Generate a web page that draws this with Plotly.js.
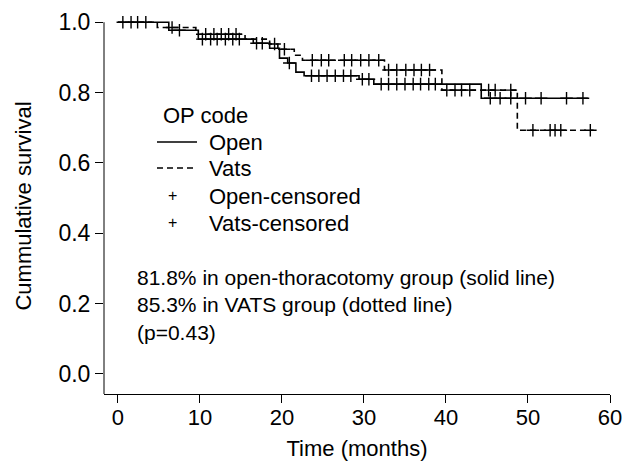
<!DOCTYPE html>
<html>
<head>
<meta charset="utf-8">
<script src="https://cdn.plot.ly/plotly-3.0.1.min.js"></script>
<style>html,body{margin:0;padding:0;background:#fff;}#chart{width:623px;height:461px;}</style>
</head>
<body>
<div id="chart"></div>
<script>
// Open (solid) step curve: event times and survival after each step
const openTime = [0, 6.2, 9.8, 16.5, 18.5, 19.7, 20.7, 21.7, 22.7, 29.4, 31.2, 44.3, 57.3];
const openSurv = [1.0, 0.977, 0.952, 0.940, 0.926, 0.898, 0.884, 0.858, 0.848, 0.838, 0.824, 0.784, 0.784];
// Vats (dashed) step curve
const vatsTime = [0, 4.8, 9.5, 15.5, 18.5, 19.5, 21.5, 22.5, 32.5, 39.5, 48.7, 58.0];
const vatsSurv = [1.0, 0.985, 0.966, 0.952, 0.938, 0.923, 0.906, 0.892, 0.864, 0.807, 0.693, 0.693];
// Censored times
const openCensor = [0.6, 1.6, 2.4, 3.4, 7.5, 10.3, 11.3, 12.1, 13.1, 14.0, 14.8, 16.9, 17.6, 20.9,
  23.6, 24.5, 25.5, 26.5, 27.5, 28.4, 29.8, 30.6, 32.1, 33.0, 34.0, 35.0, 36.0, 36.9, 37.9, 38.7,
  45.4, 46.6, 47.9, 49.7, 51.6, 54.7, 56.7];
const vatsCensor = [6.6, 10.7, 11.7, 12.6, 13.5, 14.4, 19.1, 20.3, 23.7, 24.8, 25.7, 27.6, 28.5,
  29.6, 30.6, 31.8, 33.0, 34.0, 35.1, 36.1, 37.0, 38.0, 40.1, 41.1, 41.9, 42.9, 45.2, 46.0, 47.9,
  50.6, 52.7, 53.3, 54.0, 57.6];
const xTicks = [0, 10, 20, 30, 40, 50, 60];
const yTicks = [0, 0.2, 0.4, 0.6, 0.8, 1.0];
const legendTitle = "OP code";
const legendLabels = ["Open", "Vats", "Open-censored", "Vats-censored"];
const noteLines = ["81.8% in open-thoracotomy group (solid line)", "85.3% in VATS group (dotted line)", "(p=0.43)"];

function survAt(times, surv, t) {
  let s = surv[0];
  for (let i = 0; i < times.length; i++) { if (times[i] <= t) s = surv[i]; }
  return s;
}

const FONT = "Liberation Sans, Arial, sans-serif";
const traces = [
  {x: openTime, y: openSurv, mode: 'lines', line: {shape: 'hv', color: '#000', width: 1.6}, name: legendLabels[0]},
  {x: vatsTime, y: vatsSurv, mode: 'lines', line: {shape: 'hv', color: '#000', width: 1.6, dash: '6px,4px'}, name: legendLabels[1]},
  {x: openCensor, y: openCensor.map(t => survAt(openTime, openSurv, t)), mode: 'markers', name: legendLabels[2],
   marker: {symbol: 'cross-thin', size: 9, line: {color: '#000', width: 1.4}}, cliponaxis: false},
  {x: vatsCensor, y: vatsCensor.map(t => survAt(vatsTime, vatsSurv, t)), mode: 'markers', name: legendLabels[3],
   marker: {symbol: 'cross-thin', size: 9, line: {color: '#000', width: 1.4}}, cliponaxis: false}
];

// plot area in pixels: x 104..610, y 18..394
const ML = 104, MR = 13, MT = 18, MB = 67;
const PL = ML, PW = 623 - ML - MR, PB = 461 - MB, PH = 461 - MT - MB;
const px = v => (v - PL) / PW;
const py = v => (PB - v) / PH;

const legRows = [142, 168, 196, 223];
const shapes = [
  {type: 'line', xref: 'paper', yref: 'y', x0: 0, x1: 0, y0: -0.057, y1: 1.0, line: {color: '#000', width: 1}},
  {type: 'line', xref: 'paper', yref: 'paper', x0: px(157), x1: px(197), y0: py(legRows[0]), y1: py(legRows[0]), line: {color: '#000', width: 1.4}},
  {type: 'line', xref: 'paper', yref: 'paper', x0: px(157), x1: px(197), y0: py(legRows[1]), y1: py(legRows[1]), line: {color: '#000', width: 1.4, dash: '6px,4px'}}
];
const annotations = [
  {xref: 'paper', yref: 'paper', x: px(161), y: py(115), xanchor: 'left', yanchor: 'middle', showarrow: false,
   text: legendTitle, font: {size: 22}}
];
legendLabels.forEach((lab, i) => {
  annotations.push({xref: 'paper', yref: 'paper', x: px(207), y: py(legRows[i]), xanchor: 'left', yanchor: 'middle',
    showarrow: false, text: lab, font: {size: 22}});
  if (i >= 2) annotations.push({xref: 'paper', yref: 'paper', x: px(172), y: py(legRows[i] - 1), xanchor: 'center', yanchor: 'middle',
    showarrow: false, text: '+', font: {size: 16, color: '#000'}});
});
annotations.push({xref: 'paper', yref: 'paper', x: px(135), y: py(305), xanchor: 'left', yanchor: 'middle', align: 'left',
  showarrow: false, text: noteLines.join('<br>'), font: {size: 21}});

const layout = {
  width: 623, height: 461,
  margin: {l: ML, r: MR, t: MT, b: MB},
  paper_bgcolor: '#fff', plot_bgcolor: '#fff',
  font: {family: FONT, size: 21, color: '#000'},
  showlegend: false,
  xaxis: {
    range: [-1.7, 60], tickvals: xTicks, ticktext: xTicks.map(String), ticklabeloverflow: 'allow',
    ticklabelstandoff: -4,
    showgrid: false, zeroline: false, showline: true, linecolor: '#000', linewidth: 1,
    ticks: 'outside', ticklen: 8, tickcolor: '#000', tickfont: {size: 22},
    title: {text: 'Time (months)', font: {size: 22}, standoff: 12}
  },
  yaxis: {
    range: [-0.057, 1.012], tickvals: yTicks, ticktext: yTicks.map(v => v.toFixed(1)), ticklabeloverflow: 'allow',
    showgrid: false, zeroline: false, showline: false,
    ticks: 'outside', ticklen: 8, tickcolor: '#000', tickfont: {size: 23},
    title: {text: 'Cummulative survival', font: {size: 22}, standoff: 20}
  },
  shapes: shapes,
  annotations: annotations
};
Plotly.newPlot('chart', traces, layout, {staticPlot: true});
</script>
</body>
</html>
